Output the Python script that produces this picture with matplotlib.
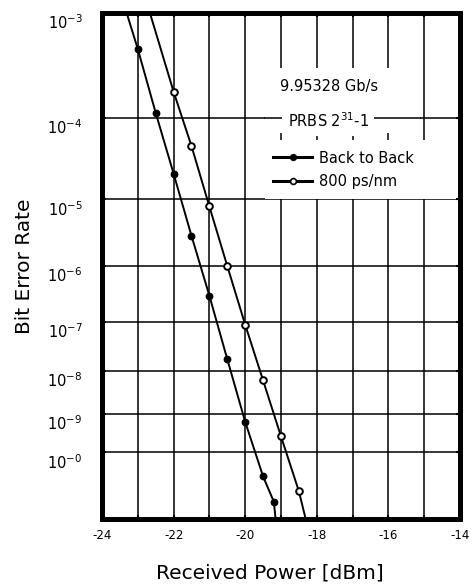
import numpy as np
import matplotlib
matplotlib.use('Agg')
import matplotlib.pyplot as plt
from matplotlib.patches import Rectangle
from matplotlib.lines import Line2D
from matplotlib.ticker import FixedLocator, FixedFormatter, NullLocator
import matplotlib.transforms as mtransforms

plt.rcParams['font.family'] = ['DejaVu Sans']
plt.rcParams['axes.unicode_minus'] = False
plt.rcParams['mathtext.fontset'] = 'dejavusans'

# ---------------- data ----------------
series_names = ['Back to Back', '800 ps/nm']

bb_power = [-23.0, -22.5, -22.0, -21.5, -21.0, -20.5, -20.0, -19.5, -19.2]
bb_ber = [4.9e-4, 1.14e-4, 2.2e-5, 3.0e-6, 3.1e-7, 1.8e-8, 6.4e-10, 2.1e-11, 3.6e-12]

d800_power = [-22.0, -21.5, -21.0, -20.5, -20.0, -19.5, -19.0, -18.5]
d800_ber = [1.9e-4, 4.8e-5, 8.0e-6, 1.0e-6, 9.0e-8, 6.2e-9, 2.7e-10, 7.6e-12]

# fitted-line end points (where the lines leave the plot)
bb_line_start = (-23.31, 1e-3)
bb_line_end = (-19.15, 1e-12)
d800_line_start = (-22.66, 1e-3)
d800_line_end = (-18.31, 1e-12)

x_major = [-24, -22, -20, -18, -16, -14]
x_minor = [-23, -21, -19, -17, -15]
y_tick_ber = [1e-3, 1e-4, 1e-5, 1e-6, 1e-7, 1e-8, 1e-9, 1e-10]
y_tick_labels = [r'$10^{-3}$', r'$10^{-4}$', r'$10^{-5}$', r'$10^{-6}$',
                 r'$10^{-7}$', r'$10^{-8}$', r'$10^{-9}$', r'$10^{-0}$']

title_line1 = '9.95328 Gb/s'
title_line2 = 'PRBS 2$^{31}$-1'

# ---------------- figure ----------------
fig = plt.figure(figsize=(4.73, 5.87), dpi=100)
ax = fig.add_axes([0.2156, 0.1158, 0.7569, 0.862])


def fwd(v):
    v = np.asarray(v, dtype=float)
    with np.errstate(all='ignore'):
        return -np.log10(-np.log10(v))


def inv(u):
    u = np.asarray(u, dtype=float)
    with np.errstate(all='ignore'):
        return 10.0 ** (-(10.0 ** (-u)))


ax.set_yscale('function', functions=(fwd, inv))
ax.set_xlim(-24, -14)
ax.set_ylim(1e-12, 1e-3)

ax.xaxis.set_major_locator(FixedLocator(x_major))
ax.xaxis.set_minor_locator(FixedLocator(x_minor))
ax.yaxis.set_major_locator(FixedLocator(y_tick_ber))
ax.yaxis.set_major_formatter(FixedFormatter(y_tick_labels))
ax.yaxis.set_minor_locator(NullLocator())

ax.set_axisbelow(True)
ax.grid(True, axis='x', which='both', color='k', lw=1.1)
ax.grid(True, axis='y', which='major', color='k', lw=1.1)

ax.tick_params(which='both', direction='in', length=3, width=1.5,
               top=True, right=True, color='k')
ax.tick_params(axis='x', labelsize=8.5, pad=7)
ax.tick_params(axis='y', labelsize=10.5, pad=14)

for s in ax.spines.values():
    s.set_linewidth(3.6)
    s.set_color('k')

# offset y tick labels slightly downward (superscript sits on the grid line)
off = mtransforms.ScaledTranslation(0, -6 / 72, fig.dpi_scale_trans)
for lbl in ax.get_yticklabels():
    lbl.set_transform(lbl.get_transform() + off)

# data lines
bb_line_x = [bb_line_start[0]] + bb_power + [bb_line_end[0]]
bb_line_y = [bb_line_start[1]] + bb_ber + [bb_line_end[1]]
d_line_x = [d800_line_start[0]] + d800_power + [d800_line_end[0]]
d_line_y = [d800_line_start[1]] + d800_ber + [d800_line_end[1]]

ax.plot(bb_line_x, bb_line_y, color='k', lw=1.4, zorder=3)
ax.plot(d_line_x, d_line_y, color='k', lw=1.4, zorder=3)
ax.plot(bb_power, bb_ber, 'o', color='k', ms=4.6, zorder=4)
ax.plot(d800_power, d800_ber, 'o', mfc='white', mec='k', mew=1.4, ms=4.8, zorder=4)

# white legend area
ax.add_patch(Rectangle((0.455, 0.763), 0.888 - 0.455, 0.891 - 0.763,
                       transform=ax.transAxes, fc='white', ec='none', zorder=2.5))
ax.add_patch(Rectangle((0.455, 0.6334), 0.99 - 0.455, 0.749 - 0.6334,
                       transform=ax.transAxes, fc='white', ec='none', zorder=2.5))
ax.axhline(1e-4, xmin=0.455, xmax=0.888, color='k', lw=1.1, zorder=2.6)

ax.text(0.634, 0.854, title_line1, transform=ax.transAxes, ha='center',
        va='center', fontsize=10.5, zorder=3)
ax.text(0.632, 0.787, title_line2, transform=ax.transAxes, ha='center',
        va='center', fontsize=10.5, zorder=3,
        bbox=dict(fc='white', ec='none', pad=4))

handles = [Line2D([], [], color='k', lw=2.2, marker='o', ms=4.2, mfc='k', mec='k'),
           Line2D([], [], color='k', lw=2.2, marker='o', ms=4.2, mfc='white',
                  mec='k', mew=1.2)]
ax.legend(handles, series_names, loc='center left', bbox_to_anchor=(0.478, 0.69),
          frameon=False, fontsize=10.5, handlelength=2.7, handletextpad=0.45,
          labelspacing=0.6, borderpad=0, borderaxespad=0, numpoints=1)

ax.set_xlabel('Received Power [dBm]', fontsize=14.5)
ax.xaxis.set_label_coords(0.47, -0.087)
ax.set_ylabel('Bit Error Rate', fontsize=14.5)
ax.yaxis.set_label_coords(-0.19, 0.5)

fig.savefig('out.png', dpi=100)
